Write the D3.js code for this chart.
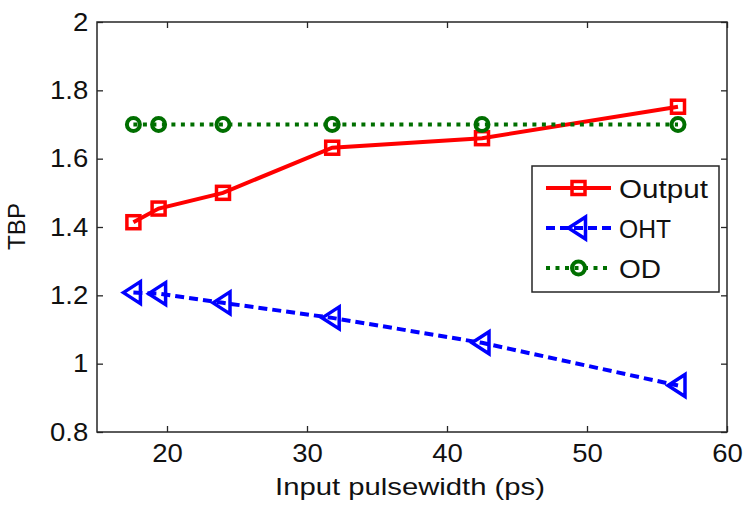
<!DOCTYPE html>
<html>
<head>
<meta charset="utf-8">
<script src="https://cdn.jsdelivr.net/npm/d3@7"></script>
<style>
  body { margin: 0; background: #fff; }
  text { font-family: "Liberation Sans", Arial, sans-serif; fill: #111; }
</style>
</head>
<body>
<div id="container"></div>
<script>
const width = 752;
const height = 512;
const margin = {top: 22, right: 25, bottom: 80, left: 97};

//------------------DATA------------------//
const pulsewidth = [17.6, 19.4, 24.0, 31.8, 42.5, 56.5];
const output = [1.414, 1.454, 1.50, 1.632, 1.660, 1.752];
const oht = [1.208, 1.205, 1.178, 1.134, 1.061, 0.936];
const od = [1.70, 1.70, 1.70, 1.70, 1.70, 1.70];
const seriesNames = ["Output", "OHT", "OD"];
const xTicks = [20, 30, 40, 50, 60];
const yTicks = [0.8, 1, 1.2, 1.4, 1.6, 1.8, 2];

const series = [
  {name: "Output", values: output, color: "#ff0000", dash: null, marker: "square"},
  {name: "OHT", values: oht, color: "#0000ff", dash: "9,5", marker: "triangle"},
  {name: "OD", values: od, color: "#006f00", dash: "4,5.5", marker: "circle"}
];

const svg = d3.select("#container").append("svg")
  .attr("width", width)
  .attr("height", height);

//------------------SCALES------------------//
const x = d3.scaleLinear().domain([15, 60]).range([margin.left, width - margin.right]);
const y = d3.scaleLinear().domain([0.8, 2]).range([height - margin.bottom, margin.top]);

//------------------AXES------------------//
const stretch = 1.1;

const gx = svg.append("g")
  .attr("transform", "translate(0," + y(0.8) + ")")
  .call(d3.axisBottom(x).tickValues(xTicks).tickSize(-6).tickSizeOuter(0).tickPadding(12));
gx.selectAll("text").style("font-size", "25px").attr("transform", "scale(" + stretch + ",1)");

const gy = svg.append("g")
  .attr("transform", "translate(" + x(15) + ",0)")
  .call(d3.axisLeft(y).tickValues(yTicks).tickFormat(d3.format("")).tickSize(-6).tickSizeOuter(0).tickPadding(8));
gy.selectAll("text").style("font-size", "25px").attr("transform", "scale(" + stretch + ",1)");

svg.append("g")
  .attr("transform", "translate(0," + y(2) + ")")
  .call(d3.axisTop(x).tickValues(xTicks).tickSize(-6).tickSizeOuter(0).tickFormat(""));
svg.append("g")
  .attr("transform", "translate(" + x(60) + ",0)")
  .call(d3.axisRight(y).tickValues(yTicks).tickSize(-6).tickSizeOuter(0).tickFormat(""));

svg.selectAll(".domain").remove();
svg.selectAll(".tick line").attr("stroke", "#262626").attr("stroke-width", 1.3);

svg.append("rect")
  .attr("x", x(15)).attr("y", y(2))
  .attr("width", x(60) - x(15)).attr("height", y(0.8) - y(2))
  .attr("fill", "none").attr("stroke", "#262626").attr("stroke-width", 1.5);

svg.append("text")
  .attr("x", 275).attr("y", 495)
  .attr("textLength", 270).attr("lengthAdjust", "spacingAndGlyphs")
  .style("font-size", "24px")
  .text("Input pulsewidth (ps)");

svg.append("text")
  .attr("transform", "translate(25,250) rotate(-90)")
  .attr("textLength", 47).attr("lengthAdjust", "spacingAndGlyphs")
  .style("font-size", "23px")
  .text("TBP");

//------------------MARKERS------------------//
function drawMarker(g, type, color) {
  if (type == "square") {
    g.append("rect").attr("x", -6.5).attr("y", -6.5).attr("width", 13).attr("height", 13)
      .attr("fill", "none").attr("stroke", color).attr("stroke-width", 3.5);
  } else if (type == "triangle") {
    g.append("path").attr("d", "M-10,0L7,-11L7,11Z")
      .attr("fill", "none").attr("stroke", color).attr("stroke-width", 3.5)
      .attr("stroke-linejoin", "miter");
  } else {
    g.append("circle").attr("r", 6.5)
      .attr("fill", "none").attr("stroke", color).attr("stroke-width", 4);
  }
}

//------------------LINES------------------//
const line = d3.line()
  .x(function(d, i) { return x(pulsewidth[i]); })
  .y(function(d) { return y(d); });

series.forEach(function(s) {
  const g = svg.append("g");
  g.append("path")
    .attr("d", line(s.values))
    .attr("fill", "none")
    .attr("stroke", s.color)
    .attr("stroke-width", 4)
    .attr("stroke-dasharray", s.dash);
  g.selectAll("g.pt")
    .data(s.values)
    .enter()
    .append("g")
    .attr("class", "pt")
    .attr("transform", function(d, i) { return "translate(" + x(pulsewidth[i]) + "," + y(d) + ")"; })
    .each(function() { drawMarker(d3.select(this), s.marker, s.color); });
});

//------------------LEGEND------------------//
const legend = svg.append("g");
legend.append("rect")
  .attr("x", 532).attr("y", 166).attr("width", 187).attr("height", 126)
  .attr("fill", "#fff").attr("stroke", "#262626").attr("stroke-width", 1.5);

const legendLen = {Output: 89, OHT: 52, OD: 42};
series.forEach(function(s, i) {
  const cy = 188 + i * 40;
  legend.append("line")
    .attr("x1", 546).attr("x2", 611).attr("y1", cy).attr("y2", cy)
    .attr("stroke", s.color).attr("stroke-width", 4)
    .attr("stroke-dasharray", s.dash);
  drawMarker(legend.append("g").attr("transform", "translate(578.5," + cy + ")"), s.marker, s.color);
  legend.append("text")
    .attr("x", 619).attr("y", cy + 9.5)
    .attr("textLength", legendLen[seriesNames[i]]).attr("lengthAdjust", "spacingAndGlyphs")
    .style("font-size", "26px")
    .text(seriesNames[i]);
});
</script>
</body>
</html>
